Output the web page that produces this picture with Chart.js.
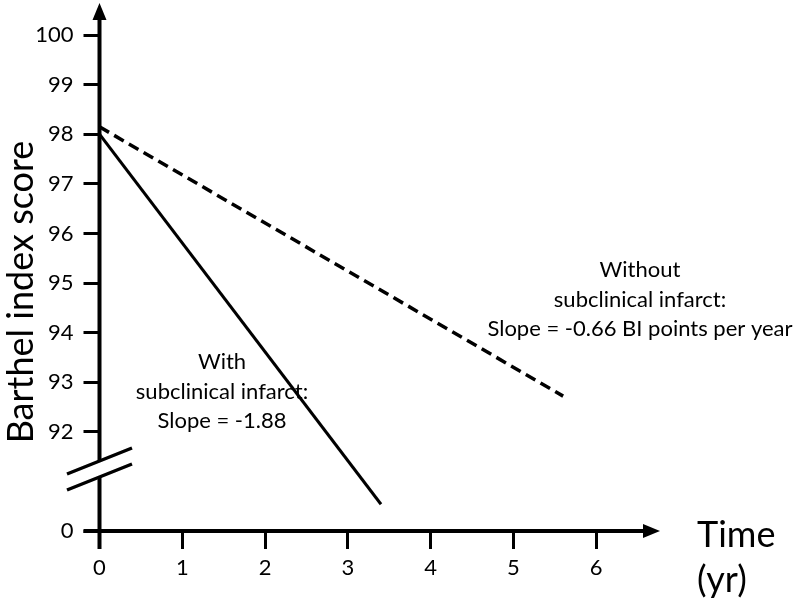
<!DOCTYPE html>
<html>
<head>
<meta charset="utf-8">
<script src="https://cdn.jsdelivr.net/npm/chart.js@4.4.1/dist/chart.umd.min.js"></script>
<style>
  html, body { margin: 0; padding: 0; background: #fff; }
  #wrap { width: 800px; height: 600px; }
</style>
</head>
<body>
<div id="wrap"><canvas id="barthelChart"></canvas></div>
<script>
// values (y value 90 stands for the "0" below the axis break)
var withX = [0, 3.4];
var withY = [98.0, 90.54];
var withoutX = [0, 5.6];
var withoutY = [98.15, 92.72];

var xTickValues = [0, 1, 2, 3, 4, 5, 6];
var yTickValues = [90, 92, 93, 94, 95, 96, 97, 98, 99, 100];
var yTickLabels = ["0", "92", "93", "94", "95", "96", "97", "98", "99", "100"];

var withText = ["With", "subclinical infarct:", "Slope = -1.88"];
var withoutText = ["Without", "subclinical infarct:", "Slope = -0.66 BI points per year"];

const fontName = 'Lato, "Open Sans", sans-serif';

function toPoints(xs, ys) {
    return xs.map(function (x, i) { return { x: x, y: ys[i] }; });
}

// axes with arrows, axis break and all the free text
const axesPlugin = {
    id: 'axesPlugin',
    afterDraw: function (chart) {
        const ctx = chart.ctx;
        const xs = chart.scales.x;
        const ys = chart.scales.y;
        const x0 = xs.getPixelForValue(0);
        const y0 = ys.getPixelForValue(90);
        const top = 3;
        const right = chart.chartArea.right;

        ctx.save();
        ctx.strokeStyle = '#000';
        ctx.fillStyle = '#000';
        ctx.lineWidth = 4;
        ctx.lineCap = 'butt';

        // y axis, broken near the bottom
        ctx.beginPath();
        ctx.moveTo(x0, y0 + 18);
        ctx.lineTo(x0, 477);
        ctx.moveTo(x0, 461);
        ctx.lineTo(x0, top + 14);
        ctx.stroke();
        ctx.beginPath();
        ctx.moveTo(x0, top);
        ctx.lineTo(x0 - 7, top + 17);
        ctx.lineTo(x0 + 7, top + 17);
        ctx.closePath();
        ctx.fill();

        // x axis
        ctx.beginPath();
        ctx.moveTo(x0 - 16, y0);
        ctx.lineTo(right - 14, y0);
        ctx.stroke();
        ctx.beginPath();
        ctx.moveTo(right, y0);
        ctx.lineTo(right - 17, y0 - 7);
        ctx.lineTo(right - 17, y0 + 7);
        ctx.closePath();
        ctx.fill();

        // break marks
        ctx.lineWidth = 3.5;
        ctx.beginPath();
        ctx.moveTo(67, 474);
        ctx.lineTo(132, 448);
        ctx.moveTo(67, 490);
        ctx.lineTo(132, 464);
        ctx.stroke();

        // axis titles
        ctx.textBaseline = 'middle';
        ctx.font = '36px ' + fontName;
        ctx.textAlign = 'left';
        ctx.fillText('Time', 697, 535);
        ctx.fillText('(yr)', 697, 580);

        ctx.save();
        ctx.translate(21, 292);
        ctx.rotate(-Math.PI / 2);
        ctx.textAlign = 'center';
        ctx.fillText('Barthel index score', 0, 0);
        ctx.restore();

        // annotations
        ctx.font = '22px ' + fontName;
        ctx.textAlign = 'center';
        withText.forEach(function (t, i) {
            ctx.fillText(t, 222, 362 + i * 29.5);
        });
        withoutText.forEach(function (t, i) {
            ctx.fillText(t, 640, 270 + i * 29.5);
        });
        ctx.restore();
    }
};

const barthelChart = new Chart('barthelChart', {
    type: 'scatter',
    data: {
        datasets: [{
            label: 'With subclinical infarct',
            data: toPoints(withX, withY),
            showLine: true,
            borderColor: '#000',
            borderWidth: 3,
            pointRadius: 0,
            borderCapStyle: 'butt'
        }, {
            label: 'Without subclinical infarct',
            data: toPoints(withoutX, withoutY),
            showLine: true,
            borderColor: '#000',
            borderWidth: 3.5,
            borderDash: [11, 6],
            pointRadius: 0,
            borderCapStyle: 'butt'
        }]
    },
    options: {
        responsive: true,
        maintainAspectRatio: false,
        animation: false,
        layout: {
            padding: { left: 0, top: 3, right: 140, bottom: 0 }
        },
        plugins: {
            legend: { display: false },
            tooltip: { enabled: false }
        },
        scales: {
            x: {
                type: 'linear',
                min: 0,
                max: 6.77,
                afterBuildTicks: function (scale) {
                    scale.ticks = xTickValues.map(function (v) { return { value: v }; });
                },
                afterFit: function (scale) { scale.height = 69; },
                border: { display: false },
                grid: {
                    drawOnChartArea: false,
                    color: '#000',
                    lineWidth: 3,
                    tickLength: 18
                },
                ticks: {
                    color: '#000',
                    font: { family: fontName, size: 22 },
                    padding: 6,
                    maxRotation: 0
                }
            },
            y: {
                type: 'linear',
                min: 90,
                max: 100.24,
                afterBuildTicks: function (scale) {
                    scale.ticks = yTickValues.map(function (v) { return { value: v }; });
                },
                afterFit: function (scale) { scale.width = 99.5; },
                border: { display: false },
                grid: {
                    drawOnChartArea: false,
                    color: '#000',
                    lineWidth: 3,
                    tickLength: 16
                },
                ticks: {
                    color: '#000',
                    font: { family: fontName, size: 22 },
                    padding: 10,
                    callback: function (v) {
                        const i = yTickValues.indexOf(v);
                        return i >= 0 ? yTickLabels[i] : '';
                    }
                }
            }
        }
    },
    plugins: [axesPlugin]
});
</script>
</body>
</html>
